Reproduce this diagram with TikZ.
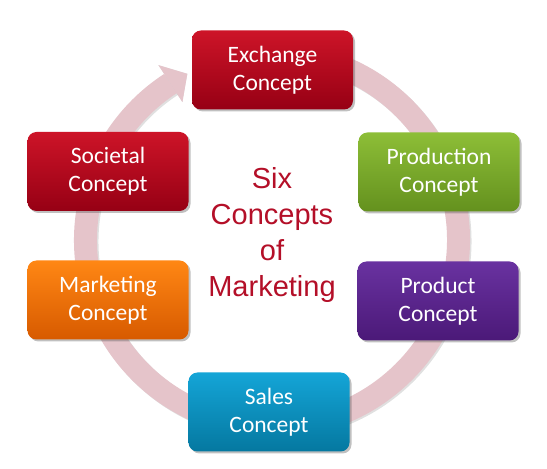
\documentclass[tikz,border=0pt]{standalone}
\usepackage{fontspec}
\newfontfamily\boxfont{Carlito}
\newfontfamily\centerfont{Liberation Sans}
\usetikzlibrary{shadows}
\definecolor{ringcol}{RGB}{229,196,202}
\definecolor{titlecol}{RGB}{180,15,40}
\definecolor{redT}{RGB}{205,20,40}\definecolor{redB}{RGB}{150,0,20}
\definecolor{grnT}{RGB}{141,190,55}\definecolor{grnB}{RGB}{100,145,30}
\definecolor{purT}{RGB}{105,50,160}\definecolor{purB}{RGB}{75,25,120}
\definecolor{bluT}{RGB}{20,165,215}\definecolor{bluB}{RGB}{5,120,160}
\definecolor{orgT}{RGB}{255,135,20}\definecolor{orgB}{RGB}{215,90,0}
\tikzset{
  concept/.style={rounded corners=9pt, minimum width=161pt, minimum height=79pt,
    inner sep=0pt, align=center, text=white,
    font=\boxfont\fontsize{23.5}{28}\selectfont,
    drop shadow={shadow xshift=2pt, shadow yshift=-2pt, opacity=0.35, fill=black!70}},
  redbox/.style={concept, top color=redT, bottom color=redB},
  grnbox/.style={concept, top color=grnT, bottom color=grnB},
  purbox/.style={concept, top color=purT, bottom color=purB},
  blubox/.style={concept, top color=bluT, bottom color=bluB},
  orgbox/.style={concept, top color=orgT, bottom color=orgB},
}
\begin{document}
\begin{tikzpicture}[x=1pt,y=1pt]
\useasboundingbox[fill=white] (0,0) rectangle (547,469);
\coordinate (c) at (272,229);
% ring shadow
\draw[line width=23pt, black, opacity=0.12] ([shift={(1.5,-1.5)}]c) ++(80:186.5) arc[start angle=80, end angle=-237, radius=186.5];
\fill[black, opacity=0.12, shift={(1.5,-1.5)}] ([shift={(123:164.5)}]c) -- ([shift={(123:208.5)}]c) -- ([shift={(117:186.5)}]c) -- cycle;
% ring
\draw[line width=23pt, ringcol] (c) ++(80:186.5) arc[start angle=80, end angle=-237, radius=186.5];
\fill[ringcol] ([shift={(123:164.5)}]c) -- ([shift={(123:208.5)}]c) -- ([shift={(117:186.5)}]c) -- cycle;
% boxes
\node[redbox] (exchange) at (272.5,399) {Exchange\\Concept};
\node[grnbox] (production) at (439,297) {Production\\Concept};
\node[purbox] (product) at (438,168) {Product\\Concept};
\node[blubox] (sales) at (269,57) {Sales\\Concept};
\node[orgbox] (marketing) at (108,169) {Marketing\\Concept};
\node[redbox] (societal) at (108,297.5) {Societal\\Concept};
% title
\node[align=center, text=titlecol, font=\centerfont\fontsize{29}{36}\selectfont] (title) at (272,234) {Six\\Concepts\\of\\Marketing};
\end{tikzpicture}
\end{document}
